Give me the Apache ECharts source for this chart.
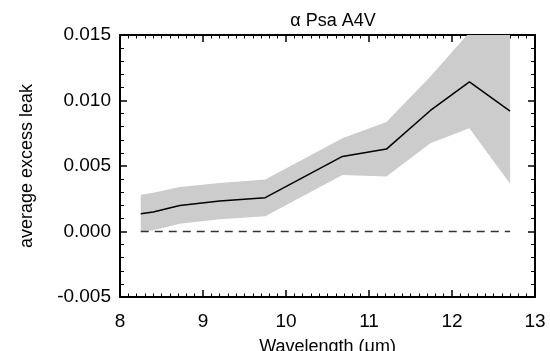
<!DOCTYPE html>
<html>
<head>
<meta charset="utf-8">
<script src="https://cdn.jsdelivr.net/npm/echarts@6/dist/echarts.min.js"></script>
<style>
html,body{margin:0;padding:0;background:#fff;}
#chart{width:550px;height:351px;}
</style>
</head>
<body>
<div id="chart"></div>
<script>
// Data
var wavelength = [8.25, 8.4, 8.72, 9.2, 9.75, 10.68, 11.21, 11.74, 12.21, 12.7];
var meanLeak   = [0.00136, 0.00149, 0.00199, 0.00233, 0.00258, 0.00573, 0.00629, 0.00924, 0.01142, 0.00919];
var upperLeak  = [0.00280, 0.00295, 0.00339, 0.00371, 0.00396, 0.00712, 0.00835, 0.01184, 0.01520, 0.01600];
var lowerLeak  = [0.00000, 0.00010, 0.00060, 0.00093, 0.00116, 0.00432, 0.00420, 0.00674, 0.00788, 0.00364];
var yTicks = [-0.005, 0.000, 0.005, 0.010, 0.015];
var xTicks = [8, 9, 10, 11, 12, 13];

var font = 'Liberation Sans, Arial, Helvetica, sans-serif';
var G = {left:120, right:15, top:35, bottom:54, W:550, H:351};
var gridW = G.W - G.left - G.right;
var gridH = G.H - G.top - G.bottom;
function pairs(arr){ return wavelength.map(function(w,i){ return [w, arr[i]]; }); }
var bandData = wavelength.map(function(w,i){ return [w, lowerLeak[i], upperLeak[i]]; });
var zeroLine = [[wavelength[0], 0], [wavelength[wavelength.length-1], 0]];

function axisLine(){ return {show:true, onZero:false, lineStyle:{color:'#000', width:2}}; }
function majorTick(len){ return {show:true, inside:false, length:len, lineStyle:{color:'#000', width:1.5}}; }
function minorTick(n, len){ return {show:true, splitNumber:n, length:len, lineStyle:{color:'#000', width:1}}; }
var xMin = xTicks[0], xMax = xTicks[xTicks.length-1];
var yMin = yTicks[0], yMax = yTicks[yTicks.length-1];

function xTickAxis(pos, off){
  return {type:'value', min:xMin, max:xMax, interval:1, position:pos, offset:off,
    axisLine:{show:false, onZero:false}, axisTick:majorTick(7), minorTick:minorTick(10, 3.5),
    axisLabel:{show:false}, splitLine:{show:false}};
}
function yTickAxis(pos, off){
  return {type:'value', min:yMin, max:yMax, interval:0.005, position:pos, offset:off,
    axisLine:{show:false, onZero:false}, axisTick:majorTick(7), minorTick:minorTick(5, 4),
    axisLabel:{show:false}, splitLine:{show:false}};
}

function buildOption(w, h){
  return {
  backgroundColor:'#fff',
  animation:false,
  title:{
    text:'α Psa A4V', left:328, top:7, textAlign:'center',
    textStyle:{fontFamily:font, fontSize:18, fontWeight:'normal', color:'#000'}
  },
  grid:{left:G.left, right:G.right, top:G.top, bottom:G.bottom, containLabel:false, outerBoundsMode:'none'},
  xAxis:[{
    type:'value', min:xMin, max:xMax, interval:1, position:'bottom',
    name:'Wavelength (μm)', nameLocation:'middle', nameGap:41,
    nameTextStyle:{fontFamily:font, fontSize:18, color:'#000'},
    axisLine:axisLine(), axisTick:{show:false},
    axisLabel:{fontFamily:font, fontSize:19, color:'#000', margin:15},
    splitLine:{show:false}
  },{
    type:'value', min:xMin, max:xMax, interval:1, position:'top',
    axisLine:axisLine(), axisTick:{show:false}, axisLabel:{show:false}, splitLine:{show:false}
  },
    xTickAxis('top', -h),
    xTickAxis('bottom', -h)
  ],
  yAxis:[{
    type:'value', min:yMin, max:yMax, interval:0.005, position:'left',
    name:'average excess leak', nameLocation:'middle', nameGap:84, nameRotate:90,
    nameTextStyle:{fontFamily:font, fontSize:18, color:'#000'},
    axisLine:axisLine(), axisTick:{show:false},
    axisLabel:{fontFamily:font, fontSize:19, color:'#000', margin:9,
      formatter:function(v){ return v.toFixed(3); }},
    splitLine:{show:false}
  },{
    type:'value', min:yMin, max:yMax, interval:0.005, position:'right',
    axisLine:axisLine(), axisTick:{show:false}, axisLabel:{show:false}, splitLine:{show:false}
  },
    yTickAxis('right', -w),
    yTickAxis('left', -w)
  ],
  series:[
    {type:'custom', data:bandData, xAxisIndex:0, yAxisIndex:0, silent:true,
     encode:{x:0, y:[1,2]}, clip:true, z:1,
     renderItem:function(params, api){
       if (params.dataIndex !== 0) return null;
       var pts = [];
       for (var i=0;i<bandData.length;i++){ pts.push(api.coord([bandData[i][0], bandData[i][2]])); }
       for (var j=bandData.length-1;j>=0;j--){ pts.push(api.coord([bandData[j][0], bandData[j][1]])); }
       var cs = params.coordSys;
       return {type:'polygon', shape:{points:pts},
         style:{fill:'#cccccc'},
         clipPath:{type:'rect', shape:{x:cs.x, y:cs.y, width:cs.width, height:cs.height}}};
     }},
    {type:'line', data:zeroLine, symbol:'none', z:3, xAxisIndex:0, yAxisIndex:0,
     lineStyle:{color:'#333', width:1.5, type:[8,6]}},
    {type:'line', data:pairs(meanLeak), symbol:'none', z:4, xAxisIndex:0, yAxisIndex:0,
     lineStyle:{color:'#000', width:1.5}}
  ]
  };
}

var chart = echarts.init(document.getElementById('chart'), null, {renderer:'canvas'});
chart.setOption(buildOption(gridW, gridH));
// Align the tick-only axes with the actual plot rectangle the library laid out
try {
  var p0 = chart.convertToPixel({gridIndex:0}, [xMin, yMin]);
  var p1 = chart.convertToPixel({gridIndex:0}, [xMax, yMax]);
  var w = Math.abs(p1[0] - p0[0]), h = Math.abs(p0[1] - p1[1]);
  if (isFinite(w) && isFinite(h) && (Math.abs(w - gridW) > 0.5 || Math.abs(h - gridH) > 0.5)) {
    chart.setOption(buildOption(w, h));
  }
} catch (e) {}
</script>
</body>
</html>
